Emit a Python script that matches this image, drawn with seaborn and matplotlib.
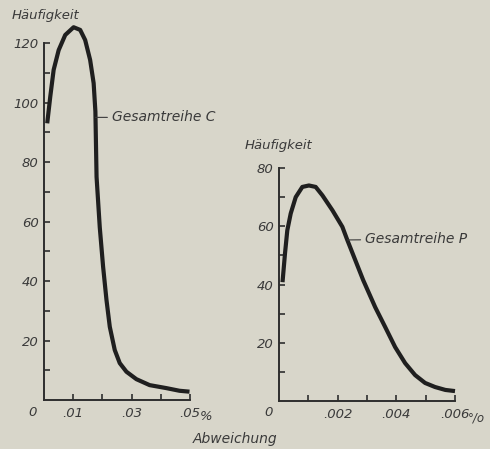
import matplotlib
matplotlib.use("Agg")
import matplotlib.pyplot as plt
import seaborn as sns

# Gesamtreihe C (Abweichung in %, Häufigkeit)
c_abw = [0.0011, 0.00215, 0.00331, 0.00502, 0.00727, 0.01014, 0.01239,
         0.0141, 0.0158, 0.0170, 0.0176, 0.0180, 0.0191, 0.02024, 0.0214,
         0.02253, 0.02423, 0.02594, 0.02823, 0.03164, 0.03618, 0.04188, 0.04642,
         0.04983]
c_haeuf = [93, 102, 111, 117.6, 122.7, 125.3, 124.4,
           121, 114.3, 106.5, 97, 75, 58, 44.8, 33.6,
           24.6, 16.8, 12.4, 9.5, 7.0, 5, 4, 3.1,
           2.8]

# Gesamtreihe P
p_abw = [0.00012, 0.000205, 0.000283, 0.0004, 0.00057, 0.000795, 0.00102, 0.00125,
         0.00148, 0.00182, 0.00216, 0.00232, 0.00287, 0.00328, 0.00362, 0.00396,
         0.0043, 0.00464, 0.00498, 0.00532, 0.00567, 0.006]
p_haeuf = [40.8, 50.7, 58.6, 64.4, 70, 73.5, 74, 73.5,
           70.6, 65.5, 59.8, 55.5, 41.5, 32.2, 25.4, 18.5,
           13, 8.9, 6.2, 4.8, 3.8, 3.4]

c_xticks = [0.01, 0.02, 0.03, 0.04, 0.05]
c_xlabels = ['.01', '', '.03', '', '.05']
c_yticks = [20, 40, 60, 80, 100, 120]
p_xticks = [0.001, 0.002, 0.003, 0.004, 0.005, 0.006]
p_xlabels = ['', '.002', '', '.004', '', '.006']
p_yticks = [20, 40, 60, 80]

bg = '#d8d6ca'
ink = '#3a3a3a'
line_col = '#1f1f1f'

sns.set_theme(style='white', rc={
    'figure.facecolor': bg, 'axes.facecolor': bg,
    'axes.edgecolor': '#2e2e2e', 'axes.linewidth': 1.4,
    'xtick.color': '#2e2e2e', 'ytick.color': '#2e2e2e',
    'text.color': ink, 'xtick.labelcolor': ink, 'ytick.labelcolor': ink,
})
plt.rcParams['font.family'] = ['DejaVu Sans']
plt.rcParams['font.style'] = 'italic'

fig = plt.figure(figsize=(4.9, 4.49), dpi=100)
W, H = 490, 449


def px_axes(x0, y_bottom, x1, y_top):
    return fig.add_axes([x0 / W, 1 - y_bottom / H, (x1 - x0) / W, (y_bottom - y_top) / H])


def style_axes(ax, xticks, xlabels, yticks, ymax):
    ax.set_ylim(0, ymax)
    ax.set_xticks(xticks)
    ax.set_xticklabels(xlabels)
    ax.set_yticks(yticks)
    ax.set_yticks(list(range(10, ymax, 20)), minor=True)
    ax.tick_params(axis='both', which='both', direction='in', length=4, width=1.2,
                   labelsize=9.5)
    ax.tick_params(axis='y', which='both', left=True, pad=4)
    ax.tick_params(axis='x', which='both', bottom=True, pad=5)
    for lbl in ax.get_xticklabels() + ax.get_yticklabels():
        lbl.set_fontstyle('italic')
    sns.despine(ax=ax)
    ax.set_xlabel('')
    ax.set_ylabel('')


# linkes Diagramm
ax1 = px_axes(44, 400, 190, 43)
sns.lineplot(x=c_abw, y=c_haeuf, ax=ax1, color=line_col, lw=3.0, clip_on=False,
             solid_capstyle='butt', solid_joinstyle='round')
ax1.set_xlim(0, 0.05)
style_axes(ax1, c_xticks, c_xlabels, c_yticks, 120)
ax1.annotate('%', xy=(0.05, 0), xytext=(7, -7.5), textcoords='offset points',
             ha='left', va='top', fontsize=9.5, annotation_clip=False)
ax1.annotate('Gesamtreihe C', xy=(0.01765, 95), xytext=(0.0233, 95),
             ha='left', va='center', fontsize=10,
             arrowprops=dict(arrowstyle='-', lw=0.8, color=ink, shrinkA=1, shrinkB=0))

# rechtes Diagramm
ax2 = px_axes(279, 401, 455, 168)
sns.lineplot(x=p_abw, y=p_haeuf, ax=ax2, color=line_col, lw=3.0, clip_on=False,
             solid_capstyle='butt', solid_joinstyle='round')
ax2.set_xlim(0, 0.006)
style_axes(ax2, p_xticks, p_xlabels, p_yticks, 80)
ax2.annotate('°/o', xy=(0.006, 0), xytext=(9, -7.5), textcoords='offset points',
             ha='left', va='top', fontsize=8.5, annotation_clip=False)
ax2.annotate('Gesamtreihe P', xy=(0.00234, 55.3), xytext=(0.00294, 55.5),
             ha='left', va='center', fontsize=10,
             arrowprops=dict(arrowstyle='-', lw=0.8, color=ink, shrinkA=1, shrinkB=0))

# Achsentitel
fig.text(12 / W, 1 - 15 / H, 'Häufigkeit', ha='left', va='center', fontsize=9.5)
fig.text(245 / W, 1 - 146 / H, 'Häufigkeit', ha='left', va='center', fontsize=9.5)
fig.text(235 / W, 1 - 439 / H, 'Abweichung', ha='center', va='center', fontsize=10)
fig.text(33 / W, 1 - 413 / H, '0', ha='center', va='center', fontsize=9.5)
fig.text(269 / W, 1 - 413 / H, '0', ha='center', va='center', fontsize=9.5)

fig.savefig('out.png', dpi=100, facecolor=bg)
